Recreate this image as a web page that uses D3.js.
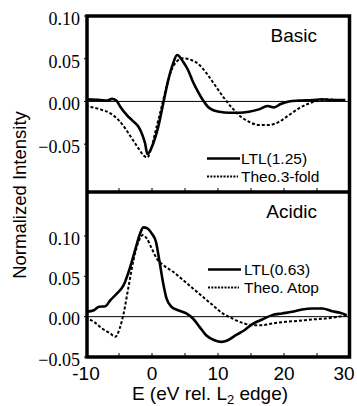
<!DOCTYPE html>
<html>
<head>
<meta charset="utf-8">
<script src="https://cdn.jsdelivr.net/npm/d3@7"></script>
<style>
  body { margin: 0; background: #fff; }
  svg { display: block; }
  .serif { font-family: "Liberation Serif", "Times New Roman", Times, serif; }
  .sans { font-family: "Liberation Sans", Arial, Helvetica, sans-serif; }
</style>
</head>
<body>
<div id="chart"></div>
<script>
// energy (eV rel. L2 edge) / normalized intensity
const basicLtl = [
  [-10.07, 0.0025], [-7.82, 0.0016], [-6.8, 0.001], [-6.06, 0.003], [-5.41, 0.001],
  [-4.81, -0.0062], [-3.81, -0.016], [-2.8, -0.0237], [-2.05, -0.0296], [-1.55, -0.0374],
  [-1.05, -0.049], [-0.7, -0.0616], [0.2, -0.049], [0.95, -0.0296], [1.7, -0.0023],
  [2.46, 0.025], [3.2, 0.0446], [3.8, 0.0543], [4.71, 0.0465], [5.46, 0.0368],
  [6.2, 0.023], [6.96, 0.0114], [7.7, 0.0016], [8.46, -0.0062], [9.2, -0.01],
  [10.2, -0.012], [11.7, -0.0132], [13.2, -0.0132], [14.7, -0.012], [16.2, -0.0093],
  [17.5, -0.0054], [18.5, -0.007], [19.5, -0.003], [20.75, 0], [22.25, 0.001],
  [24.3, 0.0016], [25.8, 0.0025], [27.3, 0.0016], [29.3, 0.0016]
];
const basicTheo = [
  [-10.07, -0.0054], [-7.82, -0.0093], [-6.3, -0.014], [-5.06, -0.0218], [-4.06, -0.0315],
  [-3.06, -0.0432], [-2.05, -0.055], [-1.05, -0.0647], [-0.7, -0.0655], [-0.05, -0.053],
  [0.7, -0.0296], [1.46, -0.0062], [2.2, 0.0172], [2.96, 0.0368], [3.71, 0.0465],
  [4.71, 0.0505], [5.96, 0.0485], [7.2, 0.0426], [8.46, 0.0309], [9.7, 0.0172],
  [10.96, 0.0036], [12.2, -0.0081], [13.46, -0.0179], [14.7, -0.0238], [16.2, -0.0276],
  [17.7, -0.0276], [19.25, -0.0238], [20.75, -0.016], [22.25, -0.0081], [23.8, -0.0023],
  [25.3, 0.001], [26.8, 0.0025], [28.3, 0.0016], [29.3, 0.0016]
];
const acidicLtl = [
  [-10.07, 0.006], [-8.8, 0.008], [-8.07, 0.0122], [-7.07, 0.013], [-6.3, 0.0205],
  [-5.3, 0.0288], [-4.3, 0.039], [-3.3, 0.0618], [-2.56, 0.0825], [-1.8, 0.1032],
  [-1.3, 0.1107], [-0.7, 0.1094], [-0.05, 0.1032], [0.6, 0.0928], [1.1, 0.0701],
  [1.7, 0.0412], [2.2, 0.0226], [2.96, 0.0122], [3.96, 0.008], [5.2, 0.004],
  [6.2, -0.0023], [7.2, -0.0126], [8.2, -0.023], [9.47, -0.0292], [10.5, -0.0312],
  [11.5, -0.0292], [12.7, -0.023], [14, -0.0168], [15.2, -0.0093], [16.7, -0.0035],
  [18.2, 0.0019], [19.7, 0.004], [21.2, 0.006], [22.75, 0.0089], [24.26, 0.0101],
  [25.8, 0.0101], [27.3, 0.0068], [28.5, 0.0047], [29.5, 0.0019]
];
const acidicTheo = [
  [-10.07, -0.001], [-8.8, -0.0064], [-7.57, -0.0147], [-6.3, -0.0209], [-5.56, -0.025],
  [-4.9, -0.0147], [-4.3, 0.004], [-3.56, 0.037], [-2.8, 0.0701], [-2.05, 0.0928],
  [-1.4, 0.1011], [-0.8, 0.097], [-0.05, 0.0846], [0.7, 0.0722], [1.7, 0.0639],
  [3.2, 0.0556], [4.71, 0.0453], [6.2, 0.035], [7.7, 0.0246], [9.2, 0.0143],
  [10.7, 0.004], [12.2, -0.0023], [13.7, -0.0077], [15.2, -0.0105], [16.7, -0.0105],
  [18.2, -0.0085], [20.2, -0.0064], [22.25, -0.0052], [24.26, -0.0035], [26.3, -0.0023],
  [28.3, 0], [29.5, 0.0019]
];

const xTicks = [-10, 0, 10, 20, 30];
const xMinorTicks = [-5, 0, 5, 10, 15, 20, 25];
const yTicks = [0.10, 0.05, 0.00, -0.05];

const panels = [
  { name: "Basic", top: 16, bottom: 192, domain: [-0.106, 0.10],
    ltl: basicLtl, theo: basicTheo, ltlLabel: "LTL(1.25)", theoLabel: "Theo.3-fold",
    legX: 207, legY: 158.5, textX: 241 },
  { name: "Acidic", top: 192, bottom: 357, domain: [-0.05, 0.1545],
    ltl: acidicLtl, theo: acidicTheo, ltlLabel: "LTL(0.63)", theoLabel: "Theo. Atop",
    legX: 208, legY: 269.5, textX: 244 }
];

const width = 357, height = 406;
const left = 87, right = 349.5;

const svg = d3.select("#chart").append("svg")
  .attr("width", width)
  .attr("height", height);

const x = d3.scaleLinear().domain([-10, 30]).range([86, 350]);

panels.forEach((p, i) => {
  const y = d3.scaleLinear().domain(p.domain).range([p.bottom, p.top]);
  const g = svg.append("g");

  const clipId = "clip" + i;
  svg.append("clipPath").attr("id", clipId)
    .append("rect")
    .attr("x", left).attr("y", p.top)
    .attr("width", right - left).attr("height", p.bottom - p.top);

  // zero line
  g.append("line")
    .attr("x1", left).attr("x2", right)
    .attr("y1", y(0)).attr("y2", y(0))
    .attr("stroke", "#000").attr("stroke-width", 1);

  const line = d3.line()
    .x(d => x(d[0]))
    .y(d => y(d[1]))
    .curve(d3.curveMonotoneX);

  g.append("path")
    .datum(p.theo)
    .attr("clip-path", "url(#" + clipId + ")")
    .attr("d", line)
    .attr("fill", "none")
    .attr("stroke", "#000")
    .attr("stroke-width", 2)
    .attr("stroke-dasharray", "3,2");

  g.append("path")
    .datum(p.ltl)
    .attr("clip-path", "url(#" + clipId + ")")
    .attr("d", line)
    .attr("fill", "none")
    .attr("stroke", "#000")
    .attr("stroke-width", 2.6);

  // minor ticks on the bottom edge, pointing inward
  g.selectAll("line.xt").data(xMinorTicks).enter().append("line")
    .attr("x1", d => x(d)).attr("x2", d => x(d))
    .attr("y1", p.bottom).attr("y2", p.bottom - 4)
    .attr("stroke", "#000").attr("stroke-width", 1);

  // y ticks + labels
  g.selectAll("line.yt").data(yTicks).enter().append("line")
    .attr("x1", left - 3).attr("x2", left)
    .attr("y1", d => y(d)).attr("y2", d => y(d))
    .attr("stroke", "#000").attr("stroke-width", 1);

  g.selectAll("text.yl").data(yTicks).enter().append("text")
    .attr("class", "serif")
    .attr("x", 80)
    .attr("y", d => y(d) + 2.5)
    .attr("dy", "0.35em")
    .attr("text-anchor", "end")
    .attr("font-size", 18)
    .text(d => d3.format(".2f")(d));

  // panel title
  g.append("text")
    .attr("class", "sans")
    .attr("x", 317)
    .attr("y", p.top + (i === 0 ? 25.5 : 26))
    .attr("text-anchor", "end")
    .attr("font-size", 19)
    .text(p.name);

  // legend
  g.append("line")
    .attr("x1", p.legX).attr("x2", p.legX + 33)
    .attr("y1", p.legY).attr("y2", p.legY)
    .attr("stroke", "#000").attr("stroke-width", 2.4);
  g.append("text")
    .attr("class", "sans")
    .attr("x", p.textX).attr("y", p.legY + 5.5)
    .attr("font-size", 15.5)
    .text(p.ltlLabel);
  g.append("line")
    .attr("x1", p.legX).attr("x2", p.legX + 31)
    .attr("y1", p.legY + 18).attr("y2", p.legY + 18)
    .attr("stroke", "#000").attr("stroke-width", 1.8)
    .attr("stroke-dasharray", "2,1.3");
  g.append("text")
    .attr("class", "sans")
    .attr("x", p.textX).attr("y", p.legY + 23)
    .attr("font-size", 15.5)
    .text(p.theoLabel);
});

// frames
svg.append("rect")
  .attr("x", left).attr("y", 16)
  .attr("width", right - left).attr("height", 357 - 16)
  .attr("fill", "none").attr("stroke", "#000").attr("stroke-width", 3.5);
svg.append("line")
  .attr("x1", left).attr("x2", right)
  .attr("y1", 192).attr("y2", 192)
  .attr("stroke", "#000").attr("stroke-width", 3.5);

// x tick labels (last one kept inside the window like the original)
svg.selectAll("text.xl").data(xTicks).enter().append("text")
  .attr("class", "sans")
  .attr("x", d => Math.min(x(d), width - 13))
  .attr("y", 380)
  .attr("text-anchor", "middle")
  .attr("font-size", 19)
  .text(d => d);

// axis titles
const xt = svg.append("text")
  .attr("class", "sans")
  .attr("x", 210).attr("y", 400)
  .attr("text-anchor", "middle")
  .attr("font-size", 19);
xt.append("tspan").text("E (eV rel. L");
xt.append("tspan").attr("font-size", 13).attr("dy", 4).text("2");
xt.append("tspan").attr("dy", -4).text(" edge)");

svg.append("text")
  .attr("class", "sans")
  .attr("transform", "translate(26,195) rotate(-90)")
  .attr("text-anchor", "middle")
  .attr("font-size", 18.5)
  .text("Normalized Intensity");
</script>
</body>
</html>
